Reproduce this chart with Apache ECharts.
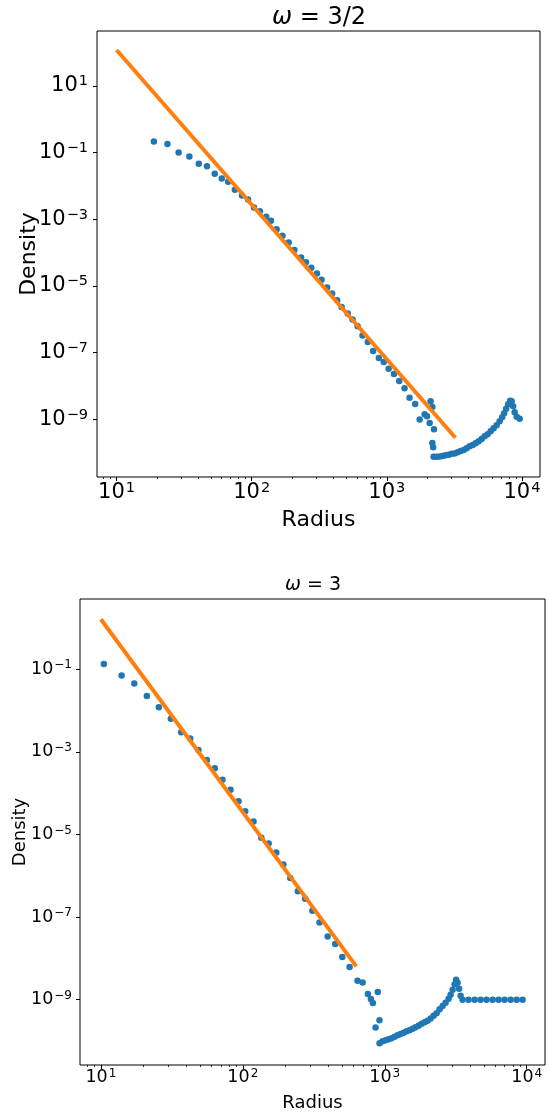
<!DOCTYPE html>
<html>
<head>
<meta charset="utf-8">
<script src="https://cdn.jsdelivr.net/npm/echarts@6/dist/echarts.min.js"></script>
<style>
  html, body { margin: 0; padding: 0; background: #fff; }
  #chart { width: 553px; height: 1116px; }
</style>
</head>
<body>
<div id="chart"></div>
<script>
// omega = 3/2 : measured density profile
var r1 = [18.9, 23.8, 28.8, 34.6, 40.6, 46.7, 53.3, 60.1, 67.0, 75.1, 84.8, 94.0, 104, 115, 128, 139,
  153, 169, 188, 207, 232, 252, 276, 304, 329, 362, 394, 429, 463, 514, 558, 608, 661, 723, 792, 873,
  949, 1031, 1129, 1236, 1352, 1473, 1622,
  1750, 1905, 1982, 2075, 2109, 2172, 2234, 2172, 2203,
  2220, 2337, 2459, 2588, 2724, 2868, 3018, 3176, 3342, 3518, 3702, 3896, 4101, 4316, 4543, 4781,
  5031, 5296, 5573, 5865, 6172, 6496, 6837, 7135, 7383, 7639, 7904, 8177, 8389, 8607, 8831, 9138, 9617];
var rho1 = [0.218, 0.181, 0.102, 0.0774, 0.0465, 0.0388, 0.0233, 0.0169, 0.0134, 0.0077, 0.00522, 0.00396,
  0.00228, 0.00176, 0.00119, 0.00090,
  5.08e-4, 3.20e-4, 2.02e-4, 1.21e-4, 7.2e-5, 5.2e-5, 3.5e-5, 2.37e-5, 1.55e-5, 9.0e-6, 5.96e-6, 3.75e-6,
  2.36e-6, 1.49e-6, 9.9e-7, 6.2e-7, 3.26e-7, 2.1e-7, 1.12e-7, 6.9e-8,
  5.2e-8, 3.3e-8, 2.28e-8, 1.41e-8, 8.5e-9, 4.4e-9, 2.9e-9,
  9.8e-10, 1.41e-9, 1.23e-9, 7.8e-10, 3.5e-9, 2.33e-9, 5.0e-10, 1.94e-10, 1.45e-10,
  7.5e-11, 7.5e-11, 7.7e-11, 8.0e-11, 8.3e-11, 8.6e-11, 9.2e-11, 9.5e-11, 1.02e-10, 1.13e-10, 1.21e-10,
  1.35e-10, 1.55e-10, 1.71e-10, 1.90e-10, 2.18e-10,
  2.59e-10, 3.08e-10, 3.55e-10, 4.36e-10, 5.37e-10, 6.6e-10, 8.7e-10, 1.15e-9, 1.51e-9, 2.07e-9, 2.82e-9,
  3.6e-9, 3.5e-9, 2.45e-9, 1.62e-9, 1.19e-9, 1.04e-9];
// power-law fit
var fitR1 = [10, 3220];
var fitRho1 = [120, 2.8e-10];

// omega = 3
var r2 = [10.5, 14.0, 17.2, 21.1, 25.6, 31.1, 36.8, 42.6, 48.7, 55.8, 63.5, 71.9, 81.9, 93.3, 104, 119,
  135, 152, 172, 193, 216, 244, 275, 309, 347, 396, 448, 502, 565, 643, 698, 760, 798, 824, 893, 918, 861,
  919, 965, 1013, 1064, 1117, 1172, 1231, 1292, 1357, 1424, 1495, 1570, 1648, 1731, 1817, 1908, 2002,
  2103, 2207, 2318, 2434, 2555, 2682, 2817, 2910, 3006, 3105, 3181, 3260, 3340, 3422,
  3532, 3890, 4295, 4732, 5212, 5754, 6339, 6982, 7709, 8492, 9354];
var rho2 = [0.134, 0.070, 0.0449, 0.0226, 0.0120, 0.00628, 0.00299, 0.00209, 0.00110, 6.3e-4, 4.03e-4,
  2.1e-4, 1.2e-4, 6.4e-5, 3.67e-5, 2.06e-5,
  8.3e-6, 6.0e-6, 3.66e-6, 1.88e-6, 8.8e-7, 4.2e-7, 2.78e-7, 1.42e-7, 7.4e-8, 3.4e-8, 2.23e-8, 1.08e-8,
  6.2e-9, 2.88e-9, 2.62e-9, 1.37e-9, 1.04e-9, 8.3e-10, 1.54e-9, 3.2e-10, 2.13e-10,
  8.9e-11, 9.9e-11, 1.05e-10, 1.11e-10, 1.17e-10, 1.27e-10, 1.39e-10, 1.47e-10, 1.59e-10, 1.73e-10,
  1.83e-10, 1.99e-10, 2.16e-10, 2.35e-10, 2.63e-10, 2.86e-10, 3.1e-10,
  3.5e-10, 4.1e-10, 4.7e-10, 5.9e-10, 7.0e-10, 8.5e-10, 1.06e-9, 1.32e-9, 1.75e-9, 2.37e-9, 3.05e-9,
  2.58e-9, 1.85e-9, 1.25e-9,
  1.0e-9, 1.0e-9, 1.0e-9, 1.0e-9, 1.0e-9, 1.0e-9, 1.0e-9, 1.0e-9, 1.0e-9, 1.0e-9, 1.0e-9];
var fitR2 = [10, 630];
var fitRho2 = [1.62, 6.4e-9];

// tick positions
var xMajor = [10, 100, 1000, 10000];
var xMinor = [8, 9, 20, 30, 40, 50, 60, 70, 80, 90, 200, 300, 400, 500, 600, 700, 800, 900,
  2000, 3000, 4000, 5000, 6000, 7000, 8000, 9000];
var yTicks1 = [1e1, 1e-1, 1e-3, 1e-5, 1e-7, 1e-9];
var yTicks2 = [1e-1, 1e-3, 1e-5, 1e-7, 1e-9];

var FONT = 'DejaVu Sans';
var BLUE = '#1f77b4';
var ORANGE = '#ff7f0e';

function pairs(xs, ys) {
  return xs.map(function (x, i) { return [x, ys[i]]; });
}

// 10^n label as rich text
function pow10(v) {
  var e = Math.round(Math.log10(v));
  return '{b|10}{e|' + (e < 0 ? '\u2212' + (-e) : e) + '}';
}

// exponent lifted by `raise` px above the base digits
function richFor(big, small, raise) {
  return {
    b: { fontSize: big, lineHeight: big, fontFamily: FONT, color: '#000' },
    e: { fontSize: small, lineHeight: small, fontFamily: FONT, color: '#000', padding: [0, 0, 2 * raise, 1] }
  };
}

var rich1 = richFor(21, 14.5, 4.5);
var rich2 = richFor(17.5, 12, 4);

function xAxes(grid, min, max, rich, nameSize, nameGap, margin) {
  return [{
    type: 'log', gridIndex: grid, min: min, max: max,
    axisLine: { show: false }, splitLine: { show: false },
    axisTick: { show: true, length: 4, customValues: xMajor, lineStyle: { color: '#000', width: 1 } },
    axisLabel: { customValues: xMajor, formatter: pow10, margin: margin, rich: rich },
    name: 'Radius', nameLocation: 'middle', nameGap: nameGap, nameMoveOverlap: false,
    nameTextStyle: { fontSize: nameSize, fontFamily: FONT, color: '#000' }
  }, {
    type: 'log', gridIndex: grid, min: min, max: max, position: 'bottom',
    axisLine: { show: false }, splitLine: { show: false }, axisLabel: { show: false },
    axisTick: { show: true, length: 2, customValues: xMinor, lineStyle: { color: '#000', width: 0.8 } }
  }];
}

function yAxis(grid, min, max, ticks, rich, nameSize, nameGap, margin) {
  return {
    type: 'log', gridIndex: grid, min: min, max: max,
    axisLine: { show: false }, splitLine: { show: false },
    axisTick: { show: true, length: 4, customValues: ticks, lineStyle: { color: '#000', width: 1 } },
    axisLabel: { customValues: ticks, formatter: pow10, margin: margin, rich: rich },
    name: 'Density', nameLocation: 'middle', nameGap: nameGap, nameRotate: 90, nameMoveOverlap: false,
    nameTextStyle: { fontSize: nameSize, fontFamily: FONT, color: '#000' }
  };
}

function titleRich(size) {
  return {
    fontWeight: 'normal',
    rich: {
      i: { fontSize: size, fontFamily: FONT, fontStyle: 'italic', fontWeight: 'normal', color: '#000' },
      r: { fontSize: size, fontFamily: FONT, fontWeight: 'normal', color: '#000' }
    }
  };
}

var chart = echarts.init(document.getElementById('chart'), null, { renderer: 'canvas' });

var option = {
  animation: false,
  backgroundColor: '#fff',
  title: [{
    text: '{i|\u03c9}{r| = 3/2}',
    left: 319, top: 6, textAlign: 'center', padding: 0,
    textStyle: titleRich(24)
  }, {
    text: '{i|\u03c9}{r| = 3}',
    left: 313, top: 576, textAlign: 'center', padding: 0,
    textStyle: titleRich(19)
  }],
  grid: [
    { left: 97, top: 31, width: 443, height: 446, show: true, borderColor: '#000', borderWidth: 1, outerBoundsMode: 'none' },
    { left: 80, top: 599, width: 465, height: 466, show: true, borderColor: '#000', borderWidth: 1, outerBoundsMode: 'none' }
  ],
  xAxis: xAxes(0, 7.17, 13600, rich1, 22, 32, 5).concat(xAxes(1, 7.13, 13450, rich2, 18, 29, 4)),
  yAxis: [
    yAxis(0, 1.86e-11, 447, yTicks1, rich1, 22, 57, 9),
    yAxis(1, 2.63e-11, 5.0, yTicks2, rich2, 18, 51, 8)
  ],
  series: [{
    type: 'scatter', xAxisIndex: 0, yAxisIndex: 0, data: pairs(r1, rho1),
    symbolSize: 6.5, itemStyle: { color: BLUE, opacity: 1 }, z: 2
  }, {
    type: 'line', xAxisIndex: 0, yAxisIndex: 0, data: pairs(fitR1, fitRho1),
    showSymbol: false, lineStyle: { color: ORANGE, width: 4 }, z: 3
  }, {
    type: 'scatter', xAxisIndex: 2, yAxisIndex: 1, data: pairs(r2, rho2),
    symbolSize: 6.5, itemStyle: { color: BLUE, opacity: 1 }, z: 2
  }, {
    type: 'line', xAxisIndex: 2, yAxisIndex: 1, data: pairs(fitR2, fitRho2),
    showSymbol: false, lineStyle: { color: ORANGE, width: 4 }, z: 3
  }]
};

chart.setOption(option);
</script>
</body>
</html>
